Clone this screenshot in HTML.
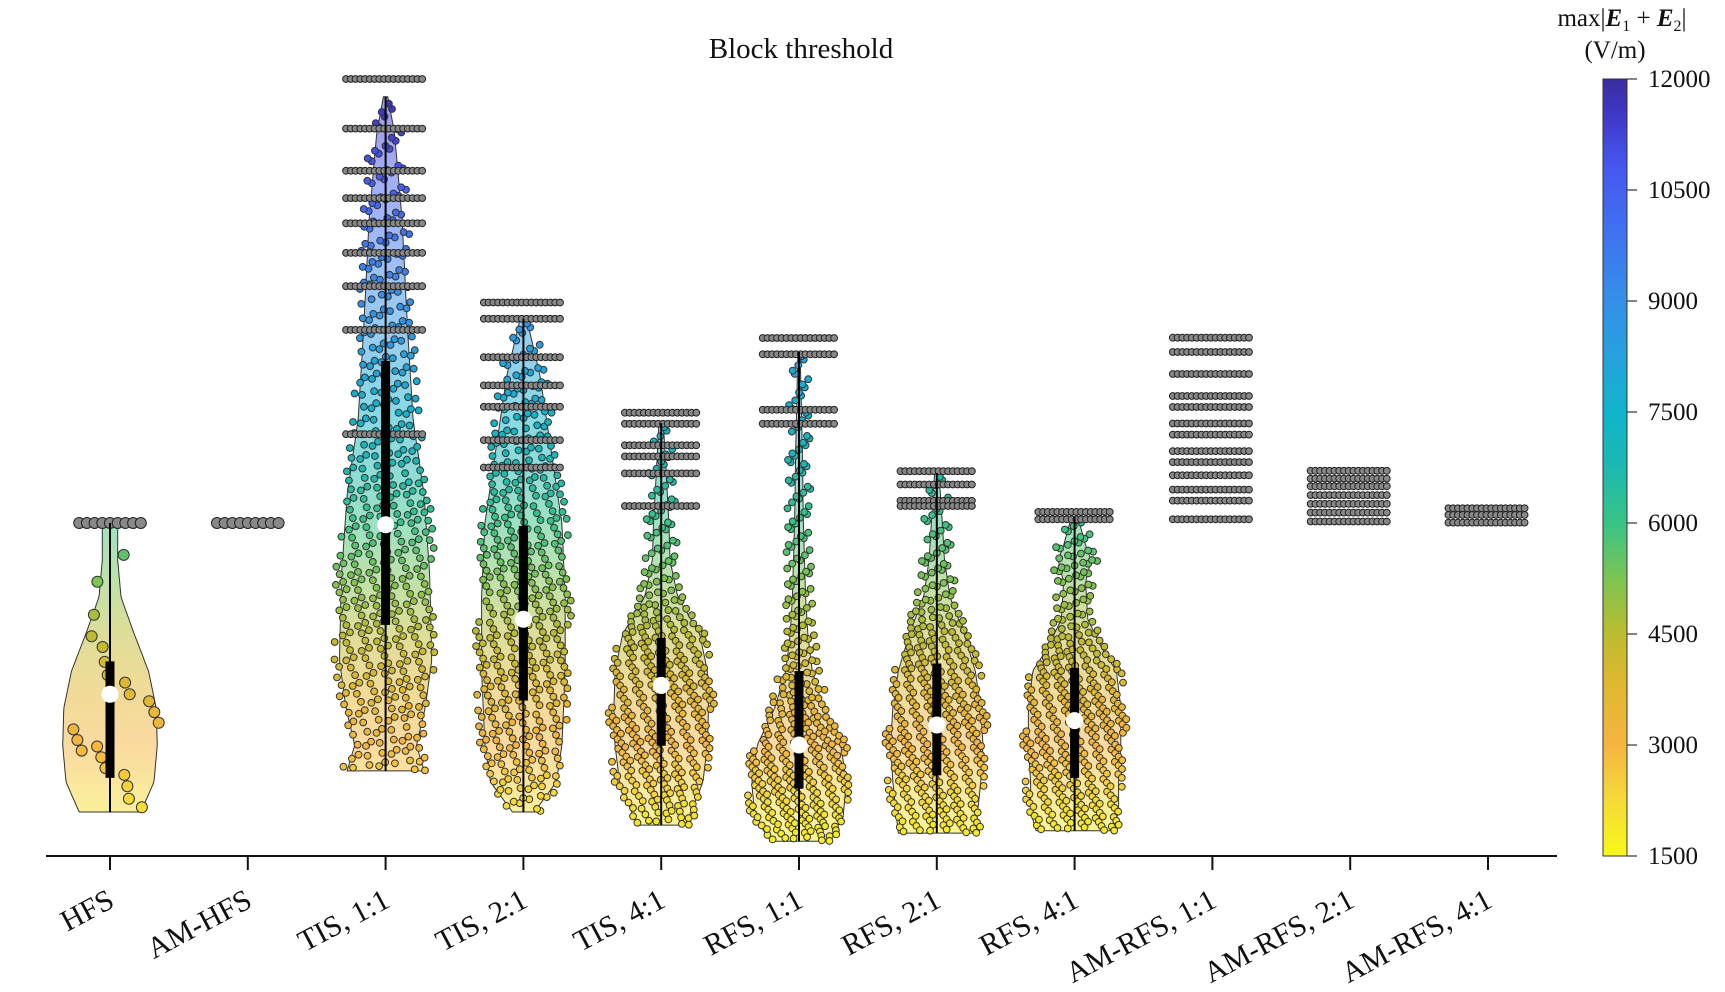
<!DOCTYPE html>
<html><head><meta charset="utf-8">
<style>
html,body{margin:0;padding:0;background:#fff;}
svg{display:block;font-family:"Liberation Serif",serif;}
</style></head>
<body>
<svg id="chart" width="1725" height="992" viewBox="0 0 1725 992" xmlns="http://www.w3.org/2000/svg">
<defs>
<linearGradient id="cmapV" gradientUnits="userSpaceOnUse" x1="0" y1="856" x2="0" y2="79"></linearGradient>
<linearGradient id="cmapBar" gradientUnits="userSpaceOnUse" x1="0" y1="856" x2="0" y2="79"></linearGradient>
</defs>
<text x="801" y="58" text-anchor="middle" font-size="29" fill="#111">Block threshold</text>
<g id="plot"></g>
<line x1="46" y1="856" x2="1557" y2="856" stroke="#111" stroke-width="2"/>
<g id="xticks"></g>
<g id="cbar"></g>
<text x="1622" y="26" text-anchor="middle" font-size="25" fill="#111">max|<tspan font-weight="bold" font-style="italic">E</tspan><tspan font-size="16" dy="5">1</tspan><tspan dy="-5"> + </tspan><tspan font-weight="bold" font-style="italic">E</tspan><tspan font-size="16" dy="5">2</tspan><tspan dy="-5">|</tspan></text>
<text x="1615" y="58" text-anchor="middle" font-size="25" fill="#111">(V/m)</text>
</svg>
<script>
const categories=["HFS","AM-HFS","TIS, 1:1","TIS, 2:1","TIS, 4:1","RFS, 1:1","RFS, 2:1","RFS, 4:1","AM-RFS, 1:1","AM-RFS, 2:1","AM-RFS, 4:1"];
const medians=[3686,null,5977,4700,3805,3000,3270,3330,null,null,null];
const q1s=[2556,null,4623,3600,2990,2410,2590,2556,null,null,null];
const q3s=[4130,null,8190,5960,4445,4000,4100,4040,null,null,null];
const mins=[2095,null,2650,2095,1917,1700,1810,1840,null,null,null];
const maxs=[6000,null,11760,8760,7350,8310,6675,6080,null,null,null];
const profVals=[
 [2095,2500,3000,3500,4000,4500,5000,5500,6000],
 null,
 [2650,3000,3500,4150,5330,6380,7400,8600,10100,11280,11760],
 [2095,2500,3000,4000,5000,6000,7000,8000,8760],
 [1917,2500,3000,3500,4000,4500,5000,5500,6000,7350],
 [1700,2000,2500,3000,3500,4000,4500,5000,6000,7000,8310],
 [1810,2500,3000,3500,4000,4500,5000,5500,6000,6675],
 [1840,2100,2500,3000,3500,4000,4300,4700,5200,5500,5700,6080],
 null,null,null];
const profDens=[
 [28,40,43,42,35,22,10,7,7],
 null,
 [35,28,36,42,40,35,25,20,15,8,2],
 [10,30,35,38,38,35,25,15,3],
 [22,38,42,43,42,35,15,8,7,2],
 [25,40,43,38,22,12,8,6,4,3,1],
 [35,40,42,40,35,25,12,7,5,2],
 [35,40,40,42,42,38,25,12,10,15,10,3],
 null,null,null];
const pointCounts=[22,0,460,420,380,380,380,380,0,0,0];
const grayLevels=[
 [6000],[6000],
 [12000,11330,10760,10390,10050,9650,9200,8610,7200],
 [8980,8760,8240,7860,7570,7120,6750],
 [7490,7340,7050,6900,6670,6230],
 [8500,8280,7530,7340],
 [6700,6520,6300,6230],
 [6150,6050],
 [8504,8311,8013,7716,7567,7344,7195,6972,6823,6645,6452,6303,6050],
 [6705,6600,6496,6377,6258,6140,6020],
 [6199,6110,6006]];
const grayHalfW=[28,28,36,36,33,33,33,33,36,36,36];
const cbTicks=[1500,3000,4500,6000,7500,9000,10500,12000];
const cmapVals=[1500,2300,3000,3800,4500,5200,6000,6800,7500,8300,9000,10000,10800,11500,12000];
const cmapCols=["#f8f81a","#f5d83a","#f5b540","#e0b830","#bcbc30","#80c450","#38c486","#1ab8b4","#10b4cc","#28a0e0","#3490e8","#4070f0","#4658f0","#4038c8","#3a2ca0"];

const NS="http://www.w3.org/2000/svg";
const X=i=>110+i*137.8;
const Y=v=>856-(v-1500)/10500*777;
const SC=1.1;
function mk(t,a,p){const e=document.createElementNS(NS,t);for(const k in a)e.setAttribute(k,a[k]);p.appendChild(e);return e;}
function hex(c){return [1,3,5].map(i=>parseInt(c.substr(i,2),16));}
function cmap(v){v=Math.max(1500,Math.min(12000,v));for(let i=0;i<cmapVals.length-1;i++){if(v<=cmapVals[i+1]){const t=(v-cmapVals[i])/(cmapVals[i+1]-cmapVals[i]);const a=hex(cmapCols[i]),b=hex(cmapCols[i+1]);return "rgb("+a.map((x,k)=>Math.round(x+(b[k]-x)*t)).join(",")+")";}}return cmapCols[cmapCols.length-1];}
["cmapV","cmapBar"].forEach(id=>{const g=document.getElementById(id);cmapVals.forEach((v,i)=>{mk("stop",{offset:((v-1500)/10500).toFixed(4),"stop-color":cmapCols[i],"stop-opacity":id==="cmapV"?0.5:1},g);});});
function halfW(ci,v){const pv=profVals[ci],pd=profDens[ci];if(v<=pv[0])return pd[0]*SC;for(let i=0;i<pv.length-1;i++){if(v<=pv[i+1]){const t=(v-pv[i])/(pv[i+1]-pv[i]);return (pd[i]+(pd[i+1]-pd[i])*t)*SC;}}return pd[pd.length-1]*SC;}
const plot=document.getElementById("plot");
const gAll=mk("g",{},plot);
categories.forEach((c,ci)=>{
 const cx=X(ci);
 const grp=mk("g",{},gAll);
 
 
 if(profVals[ci]){
  const lo=mins[ci],hi=maxs[ci],steps=80;let L=[],R=[];
  for(let s=0;s<=steps;s++){const v=lo+(hi-lo)*s/steps;const w=halfW(ci,v);L.push((cx-w).toFixed(1)+","+Y(v).toFixed(1));R.push((cx+w).toFixed(1)+","+Y(v).toFixed(1));}
  const d="M"+L.join(" L")+" L"+R.reverse().join(" L")+" Z";
  const vp=mk("path",{d:d,fill:"url(#cmapV)",stroke:"#333","stroke-width":1},grp);
  
  
  const N=pointCounts[ci];const cdf=[0];const M=200;
  for(let s=1;s<=M;s++){const v=lo+(hi-lo)*(s-0.5)/M;cdf.push(cdf[s-1]+halfW(ci,v)+4);}
  const tot=cdf[M];
  for(let k=0;k<N;k++){
   const u=((k+0.5)*0.6180339887)%1, w2=((k+0.5)*0.7548776662)%1;
   const target=u*tot;let s=1;while(s<M&&cdf[s]<target)s++;
   const v=lo+(hi-lo)*(s-1+(target-cdf[s-1])/(cdf[s]-cdf[s-1]))/M;
   const hw=halfW(ci,v)*0.95+8;
   const px=cx+(w2*2-1)*hw;
   const r=ci===0?5.5:3.4;
   const pt=mk("circle",{cx:px.toFixed(1),cy:Y(v).toFixed(1),r:r,fill:cmap(v),stroke:"#333","stroke-width":1},grp);
   
   
  }
 }
 grayLevels[ci].forEach(v=>{
  const hw=grayHalfW[ci]*SC;const r=ci<2?5.5:3.4;
  for(let x=cx-hw;x<=cx+hw+0.1;x+=r*1.4){
   const gp=mk("circle",{cx:x.toFixed(1),cy:Y(v).toFixed(1),r:r,fill:"#888",stroke:"#222","stroke-width":1},grp);
   
   
  }
 });
 if(medians[ci]!==null){
  const wl=mk("line",{x1:cx,x2:cx,y1:Y(mins[ci]),y2:Y(maxs[ci]),stroke:"#000","stroke-width":2},grp);
  
  
  const bx=mk("rect",{x:cx-4.5,width:9,y:Y(q3s[ci]),height:Y(q1s[ci])-Y(q3s[ci]),fill:"#000"},grp);
  
  
  const md=mk("circle",{cx:cx,cy:Y(medians[ci]),r:8,fill:"#fff",stroke:"#fff"},grp);
  
  
 }
});
const xt=document.getElementById("xticks");
categories.forEach((c,ci)=>{
 const cx=X(ci);
 const tk=mk("line",{x1:cx,x2:cx,y1:856,y2:870,stroke:"#111","stroke-width":2},xt);
 
 
 const t=mk("text",{x:cx+6,y:906,"text-anchor":"end","font-size":30,fill:"#111",transform:"rotate(-28 "+(cx+6)+" 906)"},xt);
 t.textContent=c;
 
 
});
const cb=document.getElementById("cbar");
const cr=mk("rect",{x:1603,y:79,width:24,height:777,fill:"url(#cmapBar)",stroke:"#333","stroke-width":1},cb);


cbTicks.forEach(v=>{
 const l=mk("line",{x1:1627,x2:1637,y1:Y(v),y2:Y(v),stroke:"#333","stroke-width":1.2},cb);
 
 
 const t=mk("text",{x:1648,y:Y(v)+8,"font-size":25,fill:"#111"},cb);
 t.textContent=v;
 
 
});
</script>
</body></html>
